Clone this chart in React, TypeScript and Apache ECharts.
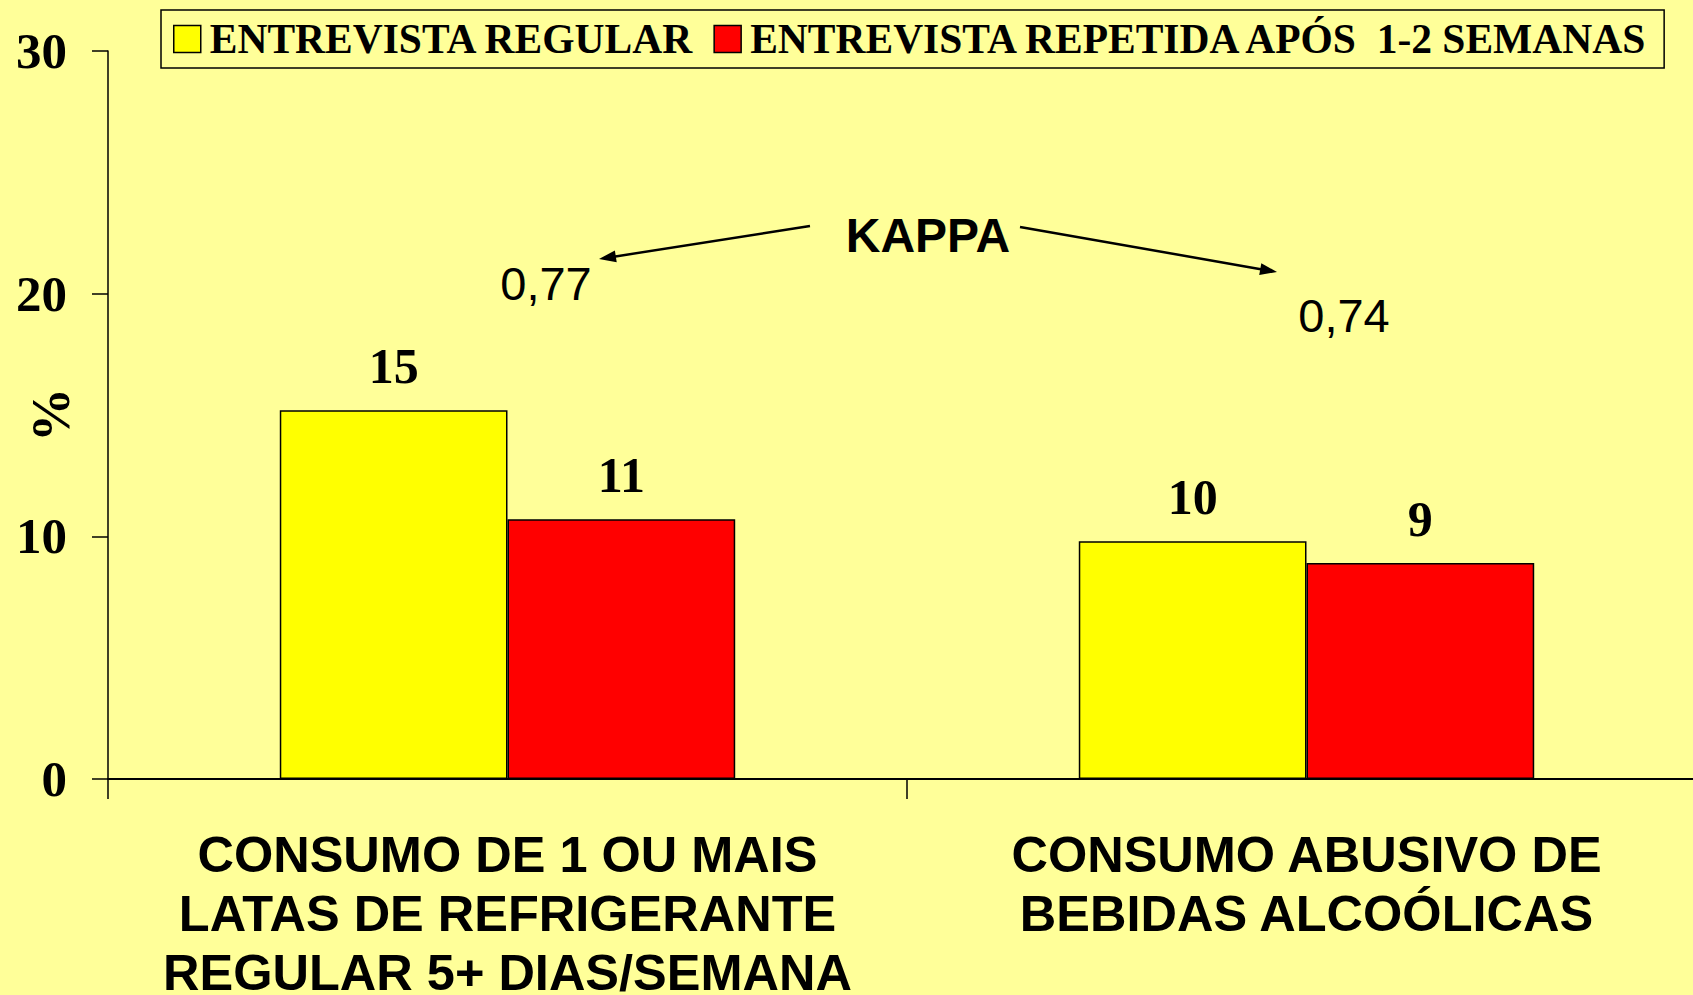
import React, { useEffect, useRef } from "react";
import * as echarts from "echarts";

const categories = [
  "CONSUMO DE 1 OU MAIS\nLATAS DE REFRIGERANTE\nREGULAR 5+ DIAS/SEMANA",
  "CONSUMO ABUSIVO DE\nBEBIDAS ALCOÓLICAS",
];
const seriesNames = ["ENTREVISTA REGULAR", "ENTREVISTA REPETIDA APÓS  1-2 SEMANAS"];
const regularValues = [15.2, 9.8];
const repeatedValues = [10.7, 8.9];
const regularLabels = ["15", "10"];
const repeatedLabels = ["11", "9"];
const yMin = 0;
const yMax = 30;
const yInterval = 10;
const yAxisName = "%";
const kappaTitle = "KAPPA";
const kappaValues = ["0,77", "0,74"];

const BG = "#FFFF99";

function arrow(x0: number, y0: number, x1: number, y1: number) {
  const dx = x1 - x0;
  const dy = y1 - y0;
  const len = Math.sqrt(dx * dx + dy * dy);
  const ux = dx / len;
  const uy = dy / len;
  const L = 17;
  const W = 12;
  const bx = x1 - ux * L;
  const by = y1 - uy * L;
  const nx = -uy;
  const ny = ux;
  return [
    {
      type: "line",
      shape: { x1: x0, y1: y0, x2: bx + ux * 2, y2: by + uy * 2 },
      style: { stroke: "#000", lineWidth: 2.5 },
    },
    {
      type: "polygon",
      shape: {
        points: [
          [x1, y1],
          [bx + (nx * W) / 2, by + (ny * W) / 2],
          [bx - (nx * W) / 2, by - (ny * W) / 2],
        ],
      },
      style: { fill: "#000" },
    },
  ];
}

function txt(text: string, x: number, y: number, size: number, weight: string) {
  return {
    type: "text",
    x,
    y,
    style: {
      text,
      fill: "#000",
      fontFamily: "Liberation Sans",
      fontSize: size,
      fontWeight: weight,
      textAlign: "center",
      textVerticalAlign: "middle",
      align: "center",
      verticalAlign: "middle",
    },
  };
}

export default function App() {
  const ref = useRef<HTMLDivElement>(null);
  useEffect(() => {
    if (!ref.current) return;
    const chart = echarts.init(ref.current, null, { renderer: "svg" });
    const labelStyle = {
      show: true,
      position: "top",
      distance: 19,
      fontFamily: "Liberation Serif",
      fontWeight: "bold",
      fontSize: 50,
      color: "#000",
    };
    chart.setOption({
      animation: false,
      backgroundColor: BG,
      grid: {
        left: 108,
        top: 51,
        width: 1598,
        height: 728,
        containLabel: false,
        outerBoundsMode: "none",
      },
      legend: {
        left: 161,
        top: 10,
        padding: [8, 12, 8, 12],
        itemWidth: 27,
        itemHeight: 27,
        itemGap: 19,
        borderColor: "#000",
        borderWidth: 1.5,
        icon: "rect",
        itemStyle: { borderColor: "#000", borderWidth: 1.5 },
        textStyle: {
          fontFamily: "Liberation Serif",
          fontWeight: "bold",
          fontSize: 41.5,
          color: "#000",
          padding: [0, 0, 0, 4],
        },
        data: seriesNames,
      },
      xAxis: {
        type: "category",
        data: categories,
        axisLine: { show: true, lineStyle: { color: "#000", width: 2 } },
        axisTick: { show: true, length: 20, lineStyle: { color: "#000", width: 1.5 } },
        axisLabel: {
          interval: 0,
          margin: 46,
          fontFamily: "Liberation Sans",
          fontWeight: "bold",
          fontSize: 50.5,
          lineHeight: 59,
          color: "#000",
        },
        splitLine: { show: false },
      },
      yAxis: {
        type: "value",
        min: yMin,
        max: yMax,
        interval: yInterval,
        name: yAxisName,
        nameLocation: "middle",
        nameRotate: 90,
        nameGap: 30,
        nameMoveOverlap: false,
        nameTextStyle: {
          fontFamily: "Liberation Serif",
          fontWeight: "bold",
          fontSize: 54,
          color: "#000",
        },
        axisLine: { show: true, lineStyle: { color: "#000", width: 1.5 } },
        axisTick: { show: true, length: 16, lineStyle: { color: "#000", width: 1.5 } },
        axisLabel: {
          margin: 41,
          fontFamily: "Liberation Serif",
          fontWeight: "bold",
          fontSize: 51,
          color: "#000",
        },
        splitLine: { show: false },
      },
      series: [
        {
          name: seriesNames[0],
          type: "bar",
          data: regularValues,
          barWidth: "28.5%",
          barGap: "0%",
          itemStyle: { color: "#FFFF00", borderColor: "#000", borderWidth: 1.5 },
          label: { ...labelStyle, formatter: (p: any) => regularLabels[p.dataIndex] },
        },
        {
          name: seriesNames[1],
          type: "bar",
          data: repeatedValues,
          barWidth: "28.5%",
          barGap: "0%",
          itemStyle: { color: "#FF0000", borderColor: "#000", borderWidth: 1.5 },
          label: { ...labelStyle, formatter: (p: any) => repeatedLabels[p.dataIndex] },
        },
      ],
      graphic: [
        txt(kappaTitle, 928, 235, 48, "bold"),
        txt(kappaValues[0], 546, 283, 47, "normal"),
        txt(kappaValues[1], 1344, 315, 47, "normal"),
        ...arrow(810, 226, 599, 259),
        ...arrow(1020, 227, 1277, 272),
      ],
    });
    return () => chart.dispose();
  }, []);
  return (
    <div
      ref={ref}
      style={{ position: "fixed", left: 0, top: 0, width: 1693, height: 995 }}
    />
  );
}
